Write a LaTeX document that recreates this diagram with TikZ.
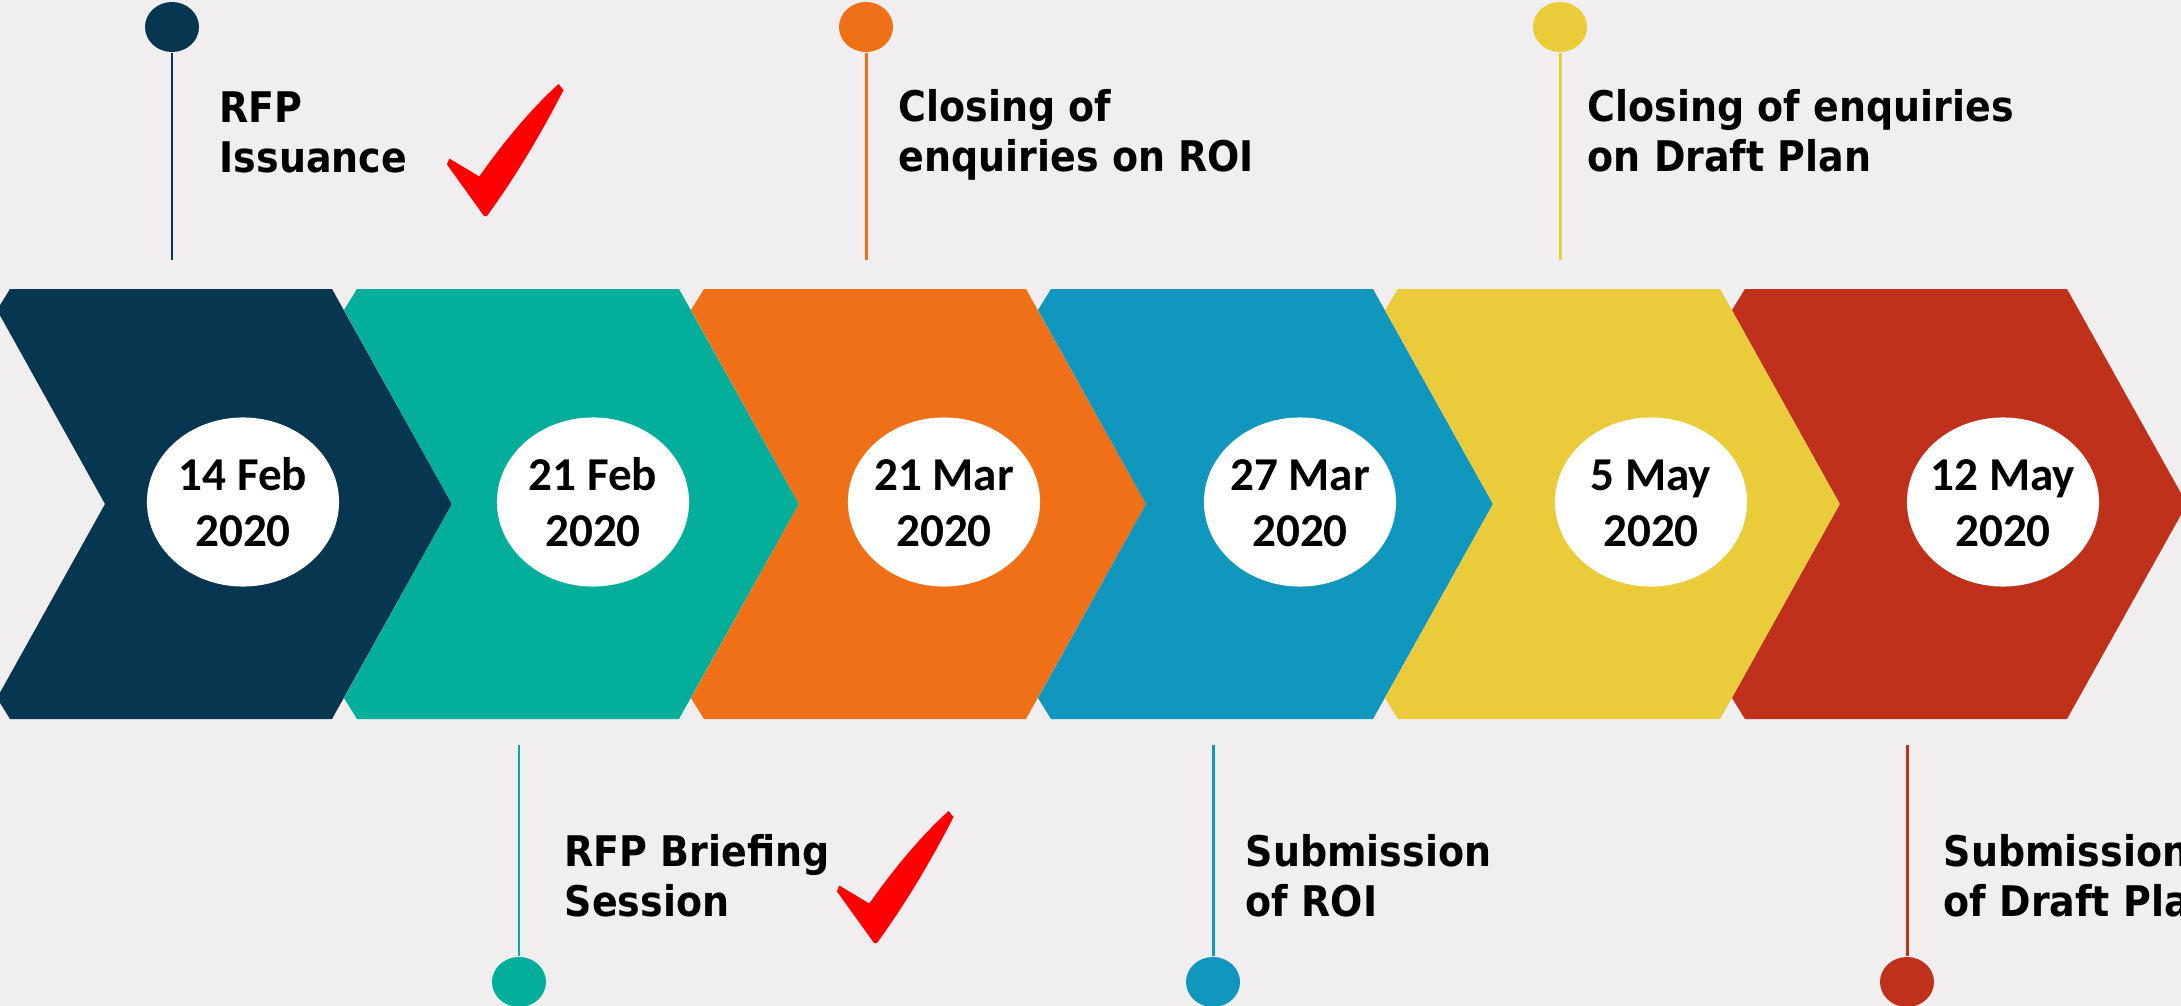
\documentclass[tikz,border=0pt]{standalone}
\usepackage{fontspec}
\newfontfamily\lblfont{DejaVu Sans}[FakeStretch=0.9]
\newfontfamily\datefont{Carlito}
\usetikzlibrary{shapes.geometric}
\definecolor{bgc}{HTML}{F0EEEF}
\definecolor{cA}{HTML}{073650}
\definecolor{cB}{HTML}{03AF9B}
\definecolor{cC}{HTML}{F07018}
\definecolor{cD}{HTML}{1196BE}
\definecolor{cE}{HTML}{EACB3A}
\definecolor{cF}{HTML}{C0311B}
\newcommand\lbllines[1]{\begin{tabular}[t]{@{}l@{}}#1\end{tabular}}
\newcommand\datelines[1]{\begin{tabular}[t]{@{}c@{}}#1\end{tabular}}
\begin{document}
\begin{tikzpicture}[x=0.01cm,y=-0.01cm,
  dateell/.style={ellipse, fill=white, draw=none, minimum width=1.92cm, minimum height=1.69cm, inner sep=0pt},
  datetxt/.style={font=\datefont\bfseries\fontsize{13.4}{16.2}\selectfont, anchor=base, inner sep=0pt, text=black},
  lbltxt/.style={font=\lblfont\bfseries\fontsize{12}{14.23}\selectfont, anchor=base west, inner sep=0pt, text=black},
  pinball/.style={ellipse, fill=#1, draw=none, minimum width=0.54cm, minimum height=0.50cm, inner sep=0pt},
  stemline/.style={draw=#1, line width=0.85pt},
  checkfill/.style={fill=red, draw=none}]
\useasboundingbox (0,0) rectangle (2181,1006);
\clip (0,0) rectangle (2181,1006);
\fill[bgc] (0,0) rectangle (2181,1006);
% chevrons
\foreach \b/\c in {0/cA,347/cB,694/cC,1041/cD,1388/cE,1735/cF}{
  \fill[\c] ({\b+10},289) -- ({\b+332},289) -- ({\b+452},504) -- ({\b+332},719) -- ({\b+10},719) -- ({\b-3},698) -- ({\b+105},504) -- ({\b-3},310) -- cycle;
}
% date ellipses
\node[dateell] (e1) at (243,502) {};
\node[dateell] (e2) at (593,502) {};
\node[dateell] (e3) at (944,502) {};
\node[dateell] (e4) at (1300,502) {};
\node[dateell] (e5) at (1651,502) {};
\node[dateell] (e6) at (2003,502) {};
\node[datetxt] (d1) at (243,490) {\datelines{14 Feb\\2020}};
\node[datetxt] (d2) at (593,490) {\datelines{21 Feb\\2020}};
\node[datetxt] (d3) at (944,490) {\datelines{21 Mar\\2020}};
\node[datetxt] (d4) at (1300,490) {\datelines{27 Mar\\2020}};
\node[datetxt] (d5) at (1651,490) {\datelines{5 May\\2020}};
\node[datetxt] (d6) at (2003,490) {\datelines{12 May\\2020}};
% top pins
\node[pinball=cA] (p1) at (172,27) {};
\node[pinball=cC] (p3) at (866,27) {};
\node[pinball=cE] (p5) at (1560,27) {};
\coordinate (s1) at (172,260);
\coordinate (s3) at (866,260);
\coordinate (s5) at (1560,260);
\draw[stemline=cA] (p1) -- (s1);
\draw[stemline=cC] (p3) -- (s3);
\draw[stemline=cE] (p5) -- (s5);
% bottom pins
\node[pinball=cB] (p2) at (519,982) {};
\node[pinball=cD] (p4) at (1213,982) {};
\node[pinball=cF] (p6) at (1907,982) {};
\coordinate (s2) at (519,745);
\coordinate (s4) at (1213,745);
\coordinate (s6) at (1907,745);
\draw[stemline=cB] (s2) -- (p2);
\draw[stemline=cD] (s4) -- (p4);
\draw[stemline=cF] (s6) -- (p6);
% labels
\node[lbltxt] (l1) at (219,122) {\lbllines{RFP\\Issuance}};
\node[lbltxt] (l3) at (898,121) {\lbllines{Closing of\\enquiries on ROI}};
\node[lbltxt] (l5) at (1587,121) {\lbllines{Closing of enquiries\\on Draft Plan}};
\node[lbltxt] (l2) at (564,866) {\lbllines{RFP Briefing\\Session}};
\node[lbltxt] (l4) at (1245,866) {\lbllines{Submission\\of ROI}};
\node[lbltxt] (l6) at (1943,866) {\lbllines{Submission\\of Draft Plan}};
% check marks
\fill[checkfill] (449.3,158.5) -- (479.3,176.5) .. controls (503,143) and (529,111) .. (558.5,84) -- (563.5,90) .. controls (541,134) and (516,176) .. (487,216) -- (484,216) -- (447,164.5) -- cycle;
\begin{scope}[shift={(390,727)}]
\fill[checkfill] (449.3,158.5) -- (479.3,176.5) .. controls (503,143) and (529,111) .. (558.5,84) -- (563.5,90) .. controls (541,134) and (516,176) .. (487,216) -- (484,216) -- (447,164.5) -- cycle;
\end{scope}
\end{tikzpicture}
\end{document}
